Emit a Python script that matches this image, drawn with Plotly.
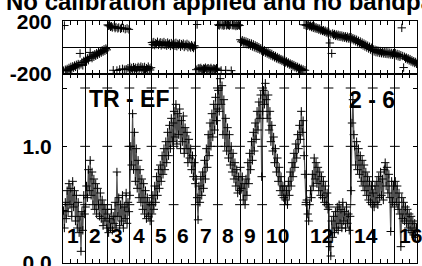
import plotly.graph_objects as go

# ---------------- data ----------------
title_text = "No calibration applied and no bandpass"
baseline_label = "TR - EF"
stokes_label = "2 - 6"
n_if = 16
n_chan = 24
if_label_numbers = [1, 2, 3, 4, 5, 6, 7, 8, 9, 10, 12, 14, 16]

amp_if01 = [0.45, 0.30, 0.52, 0.38, 0.62, 0.44, 0.68, 0.50, 0.64, 0.40, 0.70, 0.48, 0.62, 0.36, 0.58, 0.30, 0.52, 0.26, 0.40, 0.10, 0.44, 0.28, 0.58, 0.42]
amp_if02 = [0.48, 0.66, 0.56, 0.80, 0.62, 0.88, 0.58, 0.78, 0.50, 0.72, 0.46, 0.68, 0.42, 0.64, 0.50, 0.40, 0.60, 0.38, 0.54, 0.32, 0.50, 0.36, 0.46, 0.30]
amp_if03 = [0.42, 0.26, 0.38, 0.30, 0.46, 0.28, 0.40, 0.34, 0.52, 0.30, 0.78, 0.40, 0.56, 0.32, 0.50, 0.36, 0.58, 0.30, 0.48, 0.38, 0.60, 0.34, 0.52, 0.44]
amp_if04 = [0.58, 1.00, 0.84, 1.28, 0.80, 1.12, 0.70, 0.98, 0.64, 0.88, 0.56, 0.80, 0.52, 0.72, 0.46, 0.68, 0.42, 0.62, 0.38, 0.56, 0.40, 0.52, 0.36, 0.50]
amp_if05 = [0.42, 0.58, 0.46, 0.66, 0.52, 0.74, 0.58, 0.80, 0.64, 0.84, 0.70, 0.92, 0.76, 0.98, 0.80, 1.04, 0.86, 1.12, 0.92, 1.18, 0.98, 1.24, 1.04, 1.20]
amp_if06 = [1.30, 1.08, 1.36, 1.02, 1.28, 1.10, 1.32, 0.98, 1.22, 1.04, 1.26, 0.94, 1.16, 0.98, 1.12, 0.86, 1.06, 0.90, 0.98, 0.80, 0.92, 0.74, 0.86, 0.68]
amp_if07 = [0.72, 0.56, 0.37, 0.66, 0.52, 0.74, 0.58, 0.78, 0.64, 0.88, 0.72, 0.98, 0.82, 1.10, 0.92, 1.20, 1.00, 1.28, 1.08, 1.36, 1.14, 1.42, 1.22, 1.32]
amp_if08 = [1.48, 1.30, 1.58, 1.36, 1.52, 1.10, 1.40, 1.00, 1.24, 0.96, 1.16, 0.90, 1.10, 0.84, 1.00, 0.78, 0.94, 0.72, 0.86, 0.66, 0.80, 0.60, 0.74, 0.62]
amp_if09 = [0.82, 0.64, 0.74, 0.54, 0.68, 0.50, 0.72, 0.58, 0.86, 0.68, 0.94, 0.80, 1.04, 0.88, 1.12, 0.96, 1.20, 1.06, 1.30, 1.14, 1.38, 1.24, 1.44, 0.74]
amp_if10 = [1.30, 1.48, 1.36, 1.54, 1.40, 1.24, 1.44, 1.14, 1.30, 1.04, 1.18, 0.96, 1.08, 0.86, 0.98, 0.78, 0.90, 0.70, 0.82, 0.62, 0.74, 0.58, 0.66, 0.56]
amp_if11 = [0.66, 0.54, 0.62, 0.50, 0.70, 0.58, 0.78, 0.66, 0.86, 0.74, 0.94, 0.82, 1.02, 0.90, 1.10, 0.98, 1.18, 1.06, 1.30, 1.12, 1.22, 0.92, 0.76, 0.52]
amp_if12 = [0.54, 0.42, 0.36, 0.50, 0.62, 0.56, 0.76, 0.66, 0.90, 0.72, 0.86, 0.68, 0.82, 0.62, 0.78, 0.58, 0.74, 0.56, 0.70, 0.52, 0.66, 0.50, 0.60, 0.46]
amp_if13 = [0.48, 0.14, 0.06, 0.36, 0.22, 0.40, 0.26, 0.44, 0.30, 0.48, 0.28, 0.50, 0.34, 0.46, 0.30, 0.52, 0.36, 0.44, 0.30, 0.48, 0.34, 0.42, 0.28, 0.40]
amp_if14 = [0.62, 1.20, 1.40, 1.10, 1.00, 0.84, 1.04, 0.80, 0.98, 0.76, 0.92, 0.70, 0.88, 0.66, 0.84, 0.62, 0.78, 0.58, 0.74, 0.54, 0.70, 0.52, 0.66, 0.50]
amp_if15 = [0.60, 0.48, 0.66, 0.52, 0.70, 0.50, 0.74, 0.56, 0.78, 0.58, 0.72, 0.54, 0.80, 0.86, 0.66, 0.82, 0.60, 0.76, 0.56, 0.27, 0.70, 0.52, 0.66, 0.48]
amp_if16 = [0.70, 0.52, 0.66, 0.46, 0.60, 0.42, 0.14, 0.56, 0.38, 0.52, 0.36, 0.48, 0.34, 0.46, 0.30, 0.42, 0.28, 0.40, 0.26, 0.36, 0.24, 0.34, 0.22, 0.30]

pha_if01 = [-179, 170, -172, -180, -166, -176, -158, -170, -150, -164, -146, -156, -140, -150, -134, -144, -128, -138, -46, -130, -116, -138, -104, -112]
pha_if02 = [-92, -104, -84, -98, -76, -38, -70, -82, -60, -72, -52, -64, -44, -56, -36, -48, -28, -40, -22, -32, -14, -26, -8, -18]
pha_if03 = [175, 168, 172, 160, 165, 155, -176, 162, 150, 158, -178, 148, 155, -170, 145, 152, -165, 150, -172, 142, -168, 148, -160, 140]
pha_if04 = [-150, -172, -158, -178, -152, -168, -156, -176, -160, -150, -174, -158, -148, -170, -154, -172, -150, -176, -160, -168, -148, -164, -174, -156]
pha_if05 = [38, 22, 42, 18, 34, 26, 44, 20, 30, 40, 16, 36, 24, 42, 20, 32, 14, 38, 22, 30, 12, 34, 20, 26]
pha_if06 = [30, 14, 36, 10, 28, 20, 32, 6, 26, 16, 30, 4, 22, 12, 28, 2, 20, 10, 0, 18, 6, -4, 14, 2]
pha_if07 = [-172, 178, -165, -160, -170, -158, -168, -174, -162, -166, -156, -170, -164, -160, -172, -166, -158, -168, -175, -162, -166, -170, -160, -168]
pha_if08 = [176, 170, 179, -178, 172, 178, 168, 175, -176, 171, 178, 174, 169, 177, -179, 172, 175, 170, 178, 166, 173, 168, 176, 170]
pha_if09 = [60, 44, 56, 38, 50, 32, 46, 26, 40, 22, 34, 14, 30, 8, 24, 2, 16, -4, 10, -10, 2, -16, -6, -24]
pha_if10 = [-18, -32, -22, -40, -30, -46, -38, -54, -44, -62, -50, -68, -60, -76, -66, -84, -74, -90, -82, -96, -90, -104, -96, -110]
pha_if11 = [-102, -116, -108, -124, -116, -132, -124, -138, -130, -146, -136, -152, -144, -160, -150, -166, -158, -172, -164, -178, -170, 176, -176, 172]
pha_if12 = [178, 168, 176, 164, 170, 158, 166, 152, 162, 148, 156, 144, 150, 138, 146, 132, 140, 128, 134, 122, 130, 116, 124, 110]
pha_if13 = [114, 35, 104, -46, 108, 96, 104, 90, 100, 88, 98, 84, 94, 82, 92, 78, 88, 76, 86, 72, 84, 70, 80, 68]
pha_if14 = [80, 64, 72, 56, 66, 48, 60, 40, 52, 32, 46, 24, 38, 16, 30, 8, 22, 0, 14, -8, 6, -16, -2, -24]
pha_if15 = [-14, -30, -18, -36, -22, -38, -26, -42, -28, -44, -30, -46, -34, -48, -36, -50, -38, -52, -40, -54, -42, -56, -44, -58]
pha_if16 = [-44, -62, -50, -68, -54, -72, -60, 152, -66, -155, -72, -86, -78, -92, -84, -100, -90, -108, -98, -114, -106, -120, -112, -126]

amp_tick_vals = [0.0, 0.5, 1.0, 1.5]
amp_tick_text = ["0.0", "", "1.0", ""]
phase_tick_vals = [-200, 0, 200]
phase_tick_text = ["-200", "", "200"]

# ---------------- assemble ----------------
amp_lists = [amp_if01, amp_if02, amp_if03, amp_if04, amp_if05, amp_if06, amp_if07, amp_if08,
             amp_if09, amp_if10, amp_if11, amp_if12, amp_if13, amp_if14, amp_if15, amp_if16]
pha_lists = [pha_if01, pha_if02, pha_if03, pha_if04, pha_if05, pha_if06, pha_if07, pha_if08,
             pha_if09, pha_if10, pha_if11, pha_if12, pha_if13, pha_if14, pha_if15, pha_if16]

xs, amps, phas = [], [], []
for i in range(n_if):
    for c in range(n_chan):
        xs.append(i + (c + 0.5) / n_chan)
        amps.append(amp_lists[i][c])
        phas.append(pha_lists[i][c])

FONT = "Liberation Sans, Arial, sans-serif"
fig = go.Figure()

# phase panel (top)
fig.add_trace(go.Scatter(
    x=xs, y=phas, mode="markers", xaxis="x", yaxis="y",
    marker=dict(symbol="cross-thin", size=6, line=dict(color="black", width=1)),
    showlegend=False, hoverinfo="skip"))

# amplitude panel (bottom)
fig.add_trace(go.Scatter(
    x=xs, y=amps, mode="lines+markers", xaxis="x2", yaxis="y2",
    line=dict(color="#505050", width=1.2),
    marker=dict(symbol="cross-thin", size=6, line=dict(color="black", width=1)),
    showlegend=False, hoverinfo="skip"))

# short horizontal tick marks on every IF boundary line
bx, by = [], []
for b in range(1, n_if):
    for v in amp_tick_vals[1:]:
        bx.append(b)
        by.append(v)
fig.add_trace(go.Scatter(
    x=bx, y=by, mode="markers", xaxis="x2", yaxis="y2",
    marker=dict(symbol="line-ew", size=7, line=dict(color="black", width=1)),
    showlegend=False, hoverinfo="skip"))

split = (263 - 74) / 242.0

xcommon = dict(range=[0, n_if], showgrid=True, gridcolor="black", gridwidth=1, dtick=1,
               tick0=0, showline=True, linecolor="black", linewidth=1, mirror="ticks",
               ticks="inside", ticklen=4, tickcolor="black", showticklabels=False,
               zeroline=False, automargin=False,
               minor=dict(dtick=1 / 3, ticks="inside", ticklen=4, tickcolor="black", showgrid=False))

fig.update_layout(
    width=422, height=266,
    margin=dict(l=63, r=5, t=21, b=3),
    paper_bgcolor="white", plot_bgcolor="white",
    font=dict(family=FONT, color="black"),
    xaxis=dict(domain=[0, 1], anchor="y", **xcommon),
    xaxis2=dict(domain=[0, 1], anchor="y2", **xcommon),
    yaxis=dict(domain=[split, 1], anchor="x", range=[-205, 205], automargin=False,
               tickvals=phase_tick_vals, ticktext=phase_tick_text, ticklabeloverflow="allow",
               showgrid=False, zeroline=True, zerolinecolor="black", zerolinewidth=1,
               showline=True, linecolor="black", linewidth=1, mirror="ticks",
               ticks="inside", ticklen=3, tickcolor="black",
               tickfont=dict(size=21, weight="bold", family=FONT), ticklabelstandoff=6),
    yaxis2=dict(domain=[0, split], anchor="x2", range=[0, 1.62], automargin=False,
                tickvals=amp_tick_vals, ticktext=amp_tick_text, ticklabeloverflow="allow",
                showgrid=False, zeroline=False,
                showline=True, linecolor="black", linewidth=1, mirror="ticks",
                ticks="inside", ticklen=4, tickcolor="black",
                tickfont=dict(size=21, weight="bold", family=FONT), ticklabelstandoff=6),
)

annos = []
annos.append(dict(text=title_text, xref="paper", yref="paper",
                  x=(4 - 63) / 354.0, y=(263 - 1) / 242.0, xanchor="left", yanchor="middle",
                  showarrow=False, font=dict(size=24, weight="bold", family=FONT)))
annos.append(dict(text=baseline_label, xref="x2", yref="y2", x=1.1, y=1.41,
                  xanchor="left", yanchor="middle", showarrow=False,
                  font=dict(size=23, weight="bold", family=FONT)))
annos.append(dict(text=stokes_label, xref="x2", yref="y2", x=12.85, y=1.40,
                  xanchor="left", yanchor="middle", showarrow=False,
                  font=dict(size=23, weight="bold", family=FONT)))
for n in if_label_numbers:
    annos.append(dict(text=str(n), xref="x2", yref="y2", x=n - 1 + 0.08, y=0.234,
                      xanchor="left", yanchor="middle", showarrow=False,
                      font=dict(size=21, weight="bold", family=FONT)))
fig.update_layout(annotations=annos)

fig.write_html("out.html", config={"displayModeBar": False},
               post_script="document.body.style.margin='0px';")
